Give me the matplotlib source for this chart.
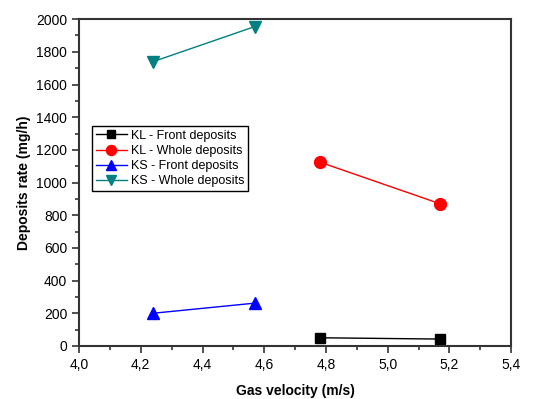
import matplotlib
matplotlib.use("Agg")
from matplotlib import pyplot as plt
from matplotlib.ticker import MultipleLocator, FuncFormatter

plt.rcParams['font.family'] = ['Liberation Sans', 'DejaVu Sans']

kl_x = [4.78, 5.17]
kl_front = [50, 42]
kl_whole = [1125, 870]
ks_x = [4.24, 4.57]
ks_front = [200, 262]
ks_whole = [1740, 1955]

fig = plt.figure(figsize=(5.38, 3.99), dpi=100)
ax = fig.add_axes([0.147, 0.133, 0.803, 0.819])

ax.plot(kl_x, kl_front, color='black', marker='s', ms=7.5, lw=1, label='KL - Front deposits')
ax.plot(kl_x, kl_whole, color='red', marker='o', ms=8.5, lw=1, label='KL - Whole deposits')
ax.plot(ks_x, ks_front, color='blue', marker='^', ms=9, lw=1, label='KS - Front deposits')
ax.plot(ks_x, ks_whole, color='#008080', marker='v', ms=9, lw=1, label='KS - Whole deposits')

ax.set_xlim(4.0, 5.4)
ax.set_ylim(0, 2000)
ax.xaxis.set_major_locator(MultipleLocator(0.2))
ax.xaxis.set_minor_locator(MultipleLocator(0.1))
ax.yaxis.set_major_locator(MultipleLocator(200))
ax.yaxis.set_minor_locator(MultipleLocator(100))
ax.xaxis.set_major_formatter(FuncFormatter(lambda v, p: f"{v:.1f}".replace('.', ',')))

for s in ax.spines.values():
    s.set_linewidth(1.5)
    s.set_color('#333333')
ax.tick_params(which='both', direction='out', labelsize=10, color='#333333', width=1.2)
ax.tick_params(which='major', length=5)
ax.tick_params(which='minor', length=3)

ax.set_xlabel('Gas velocity (m/s)', fontsize=10, fontweight='bold', labelpad=9)
ax.set_ylabel('Deposits rate (mg/h)', fontsize=10, fontweight='bold', labelpad=4)

leg = ax.legend(loc='upper left', bbox_to_anchor=(0.03, 0.673), borderaxespad=0,
                fontsize=9, fancybox=False, framealpha=1, edgecolor='black',
                handlelength=2.5, handletextpad=0.3, borderpad=0.3, labelspacing=0.25,
                markerscale=0.85)
leg.get_frame().set_linewidth(1)

fig.savefig('out.png', dpi=100)
